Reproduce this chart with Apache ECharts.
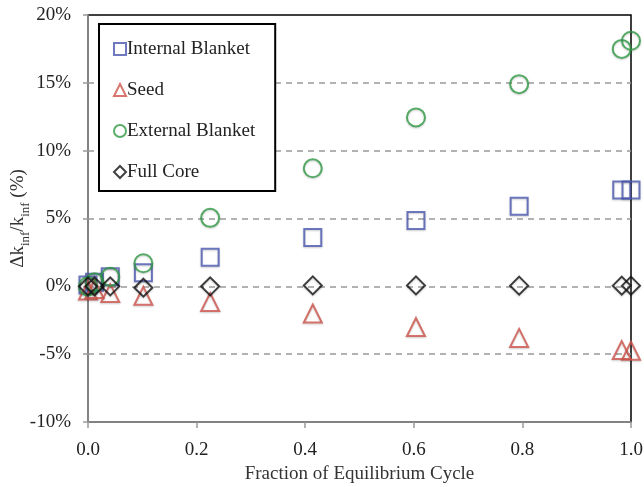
<!DOCTYPE html>
<html>
<head>
<meta charset="utf-8">
<script src="https://cdn.jsdelivr.net/npm/echarts@6/dist/echarts.min.js"></script>
<style>html,body{margin:0;padding:0;background:#fff}#c{width:644px;height:487px}</style>
</head>
<body>
<div id="c"></div>
<script>
var xValues = [0, 0.012, 0.041, 0.102, 0.225, 0.414, 0.604, 0.794, 0.983, 1.0];
var internalBlanket = [0.1, 0.3, 0.7, 1.0, 2.15, 3.6, 4.85, 5.9, 7.1, 7.1];
var seed = [-0.3, -0.2, -0.5, -0.7, -1.15, -2.0, -3.0, -3.8, -4.7, -4.75];
var externalBlanket = [0.0, 0.3, 0.7, 1.7, 5.05, 8.7, 12.45, 14.9, 17.5, 18.1];
var fullCore = [0, 0, 0, -0.1, 0, 0.07, 0.07, 0.05, 0.05, 0.05];
var seriesNames = ['Internal Blanket', 'Seed', 'External Blanket', 'Full Core'];

function pairs(ys) { return xValues.map(function (x, i) { return [x, ys[i]]; }); }

var font = 'Liberation Serif';
var chart = echarts.init(document.getElementById('c'), null, { renderer: 'canvas' });

function sc(name, ys, symbol, color, size) {
  return {
    name: name, type: 'scatter', data: pairs(ys), symbol: symbol, symbolSize: size,
    clip: false,
    itemStyle: { color: 'rgba(255,255,255,0)', borderColor: color, borderWidth: 2,
      shadowColor: 'rgba(0,0,0,0.25)', shadowBlur: 2, shadowOffsetY: 1 }
  };
}

chart.setOption({
  animation: false,
  grid: { left: 88, right: 13, top: 15, bottom: 65, show: true, borderColor: '#000', borderWidth: 1.5,
    containLabel: false, outerBoundsMode: 'none' },
  legend: {
    orient: 'vertical', left: 99, top: 24,
    padding: [14, 20, 8, 14], itemGap: 19, itemWidth: 12, itemHeight: 12,
    borderColor: '#000', borderWidth: 2, backgroundColor: '#fff',
    textStyle: { fontFamily: font, fontSize: 19, color: '#222', lineHeight: 22, padding: [0, 0, 0, -4] },
    data: seriesNames
  },
  xAxis: {
    type: 'value', min: 0, max: 1, interval: 0.2,
    name: 'Fraction of Equilibrium Cycle', nameLocation: 'middle', nameGap: 43, nameMoveOverlap: false,
    nameTextStyle: { fontFamily: font, fontSize: 19, color: '#333' },
    axisLine: { show: true, onZero: false, lineStyle: { color: '#999', width: 1.5 } },
    axisTick: { show: true, length: 6, lineStyle: { color: '#999', width: 1.5 } },
    axisLabel: { fontFamily: font, fontSize: 19, color: '#222', margin: 19,
      formatter: function (v) { return v.toFixed(1); } },
    splitLine: { show: false }
  },
  yAxis: {
    type: 'value', min: -10, max: 20, interval: 5,
    name: '{a|Δk}{s|inf}{a|/k}{s|inf}{a| (%)}', nameLocation: 'middle', nameGap: 60, nameMoveOverlap: false,
    nameTextStyle: { fontFamily: font, fontSize: 19, color: '#333',
      rich: { a: { fontFamily: font, fontSize: 19, color: '#333' },
              s: { fontFamily: font, fontSize: 13, color: '#333', verticalAlign: 'bottom', padding: [0, 0, -4, 0] } } },
    axisLine: { show: true, onZero: false, lineStyle: { color: '#999', width: 1.5 } },
    axisTick: { show: true, length: 5, lineStyle: { color: '#999', width: 1.5 } },
    axisLabel: { fontFamily: font, fontSize: 19, color: '#222', margin: 17,
      formatter: function (v) { return v + '%'; } },
    splitLine: { show: true, showMinLine: false, showMaxLine: false,
      lineStyle: { color: '#999', type: [6, 5], width: 1.5 } }
  },
  series: [
    sc(seriesNames[0], internalBlanket, 'rect', '#4a58b0', 17),
    sc(seriesNames[1], seed, 'triangle', '#d0524b', 18),
    sc(seriesNames[2], externalBlanket, 'circle', '#2f9a45', 18),
    sc(seriesNames[3], fullCore, 'diamond', '#111', 18)
  ]
});
</script>
</body>
</html>
